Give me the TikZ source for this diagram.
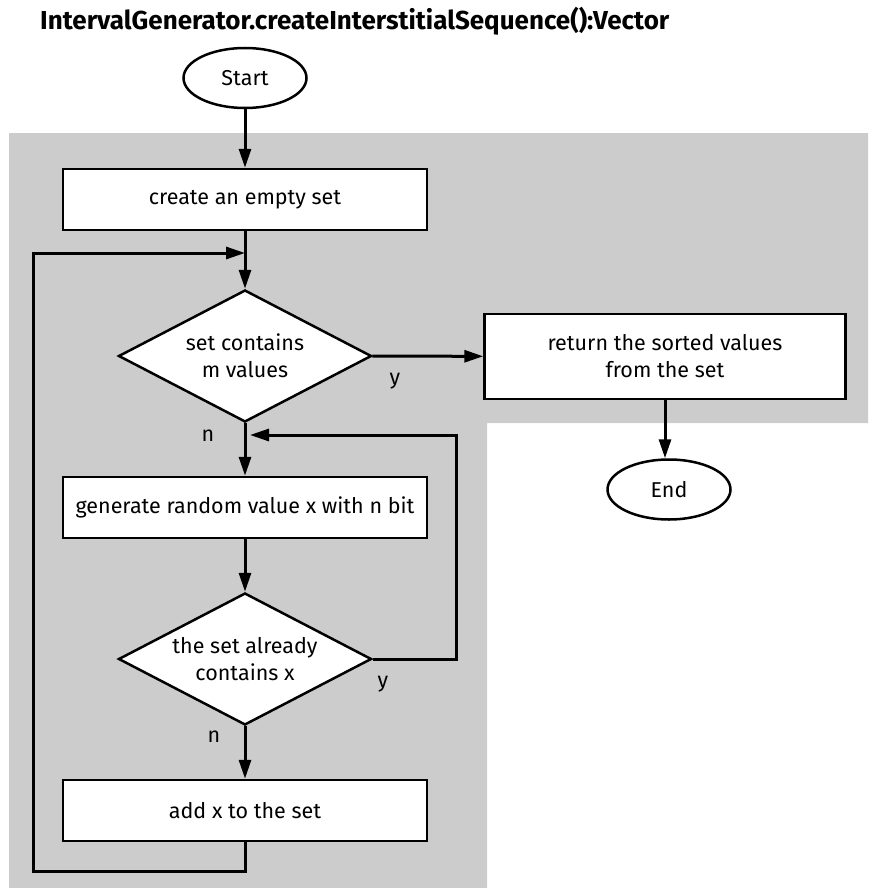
\documentclass[tikz,border=0pt]{standalone}
\usepackage{fontspec}
\setmainfont{Fira Sans}
\usetikzlibrary{shapes.geometric,arrows.meta,positioning}
\definecolor{panelgray}{HTML}{CCCCCC}
\tikzset{
  flow/.style={line width=3pt,-{Triangle[length=19pt,width=12pt]}},
  procbox/.style={draw,line width=2.5pt,fill=white,minimum width=364pt,minimum height=61pt,align=center,font=\fontsize{21.5}{27}\selectfont},
  decision/.style={draw,diamond,line width=2.5pt,fill=white,minimum width=253pt,minimum height=132pt,aspect=1.9,inner sep=0pt,align=center,font=\fontsize{21.5}{27}\selectfont},
  terminal/.style={draw,ellipse,line width=2.5pt,fill=white,minimum width=123pt,minimum height=60pt,font=\fontsize{21.5}{27}\selectfont},
  branch/.style={font=\fontsize{21.5}{27}\selectfont}
}
\begin{document}
\begin{tikzpicture}[x=1pt,y=-1pt]
    \useasboundingbox (0,0) rectangle (868,888);
    % shaded panel behind the loop part
    \fill[panelgray] (9,133) -- (868,133) -- (868,423) -- (487,423) -- (487,888) -- (9,888) -- cycle;
    \node[anchor=west,inner sep=0pt,font=\fontsize{26}{30}\selectfont\bfseries] (title) at (40,21) {IntervalGenerator.createInterstitialSequence():Vector};

    \node[terminal] (start) at (245,78) {Start};
    \node[procbox] (create) at (245,199.5) {create an empty set};
    \node[decision] (check) at (245,356) {set contains\\m values};
    \node[procbox,minimum width=361pt,minimum height=85pt] (return) at (665,356.5) {return the sorted values\\from the set};
    \node[terminal] (end) at (669,489.5) {End};
    \node[procbox] (generate) at (245,507.5) {generate random value x with n bit};
    \node[decision] (test) at (245,659) {the set already\\contains x};
    \node[procbox] (add) at (245,810.5) {add x to the set};

    \node[branch] (ycheck) at (395,381) {y};
    \node[branch] (ncheck) at (208,436) {n};
    \node[branch] (ytest) at (383,684) {y};
    \node[branch] (ntest) at (214,737) {n};

    \coordinate (loopin) at (245,253);
    \coordinate (loopL) at (33,871);
    \coordinate (backin) at (250,435);

    \draw[flow] (start) -- (create);
    \draw[flow] (create) -- (check);
    \draw[flow] (check) -- (return);
    \draw[flow] (return.south) -- (return.south |- end.north);
    \draw[flow] (check) -- (generate);
    \draw[flow] (generate) -- (test);
    \draw[flow] (test) -- (add);
    \draw[flow] (test.east) -- ++(84,0) |- (backin);
    \draw[flow] (add.south) |- (loopL) |- (loopin);
\end{tikzpicture}
\end{document}
